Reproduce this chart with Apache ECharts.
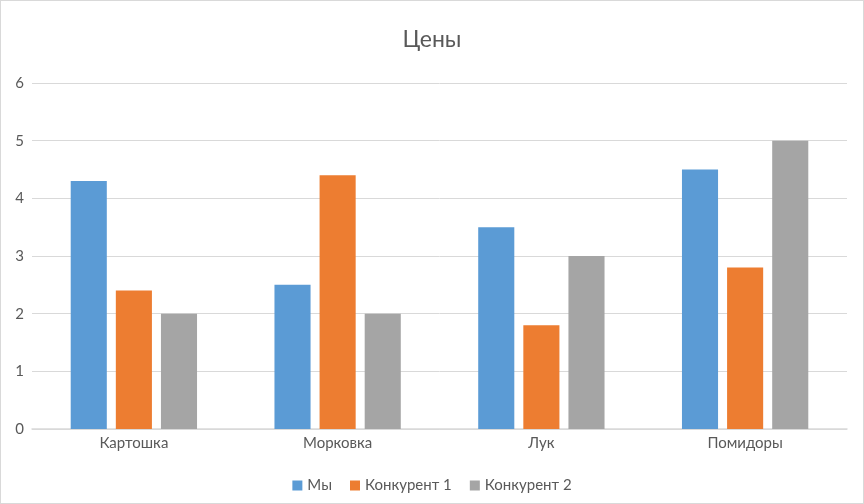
<!DOCTYPE html>
<html><head><meta charset="utf-8">
<script src="https://cdn.jsdelivr.net/npm/echarts@6/dist/echarts.min.js"></script>
<style>html,body{margin:0;padding:0;background:#fff}#c{width:864px;height:504px;box-sizing:border-box;border:1px solid #d9d9d9}</style>
</head><body><div id="c"></div>
<script>
const categories = ['Картошка', 'Морковка', 'Лук', 'Помидоры'];
const seriesNames = ['Мы', 'Конкурент 1', 'Конкурент 2'];
const valuesMy = [4.3, 2.5, 3.5, 4.5];
const valuesK1 = [2.4, 4.4, 1.8, 2.8];
const valuesK2 = [2.0, 2.0, 3.0, 5.0];
const colors = ['#5B9BD5', '#ED7D31', '#A5A5A5'];
const font = 'Lato, "Open Sans", sans-serif';
const chart = echarts.init(document.getElementById('c'), null, {renderer: 'canvas'});
const data = [valuesMy, valuesK1, valuesK2];
chart.setOption({
  animation: false,
  textStyle: {fontFamily: font},
  title: {text: 'Цены', left: 'center', top: 22, textStyle: {fontFamily: font, fontSize: 23, fontWeight: 'normal', color: '#595959'}},
  grid: {left: 31, right: 16, top: 82, bottom: 74},
  legend: {bottom: 5, left: 'center', itemWidth: 10, itemHeight: 10, itemGap: 18, icon: 'rect',
    textStyle: {fontFamily: font, fontSize: 15, color: '#595959'}, data: seriesNames},
  xAxis: {type: 'category', data: categories,
    axisLine: {lineStyle: {color: '#d9d9d9', width: 1.5}}, axisTick: {show: false},
    axisLabel: {color: '#595959', fontSize: 15, margin: 7, fontFamily: font}},
  yAxis: {type: 'value', min: 0, max: 6, interval: 1,
    axisLine: {show: false}, axisTick: {show: false},
    splitLine: {lineStyle: {color: '#d9d9d9', width: 1}},
    axisLabel: {color: '#595959', fontSize: 15, margin: 8, fontFamily: font}},
  series: seriesNames.map((n, i) => ({
    name: n, type: 'bar', data: data[i], itemStyle: {color: colors[i]},
    barGap: '25%', barCategoryGap: '38%'
  }))
});
</script></body></html>
